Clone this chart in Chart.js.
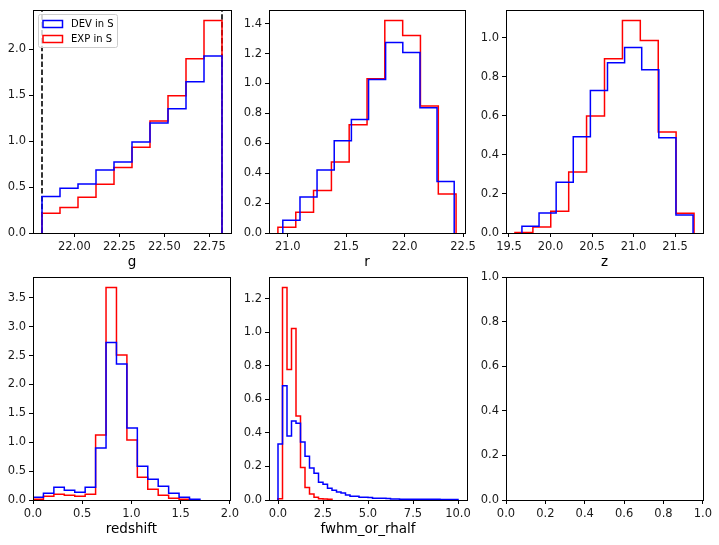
<!DOCTYPE html>
<html>
<head>
<meta charset="utf-8">
<script src="https://cdn.jsdelivr.net/npm/chart.js@4"></script>
<style>
  html, body { margin: 0; padding: 0; background: #fff; overflow: hidden; }
  #fig { position: relative; width: 719px; height: 545px; }
  #fig canvas { position: absolute; }
</style>
</head>
<body>
<div id="fig"></div>
<script>
// ---- data ----
const gEdges = [21.82, 21.92, 22.02, 22.12, 22.22, 22.32, 22.42, 22.52, 22.62, 22.72, 22.82];
const gDev = [0.397, 0.488, 0.535, 0.685, 0.772, 0.991, 1.199, 1.352, 1.647, 1.927];
const gExp = [0.215, 0.277, 0.390, 0.532, 0.714, 0.933, 1.220, 1.494, 1.898, 2.313];
const gCuts = [21.82, 22.82];

const rDevEdges = [20.957, 21.104, 21.250, 21.397, 21.544, 21.691, 21.837, 21.984, 22.131, 22.277, 22.424];
const rDev = [0.085, 0.240, 0.421, 0.616, 0.759, 1.026, 1.274, 1.207, 0.838, 0.345];
const rExpEdges = [20.915, 21.068, 21.220, 21.373, 21.525, 21.678, 21.830, 21.983, 22.135, 22.288, 22.440];
const rExp = [0.038, 0.139, 0.284, 0.475, 0.723, 1.032, 1.420, 1.321, 0.849, 0.260];

const zDevEdges = [19.656, 19.862, 20.068, 20.274, 20.480, 20.686, 20.892, 21.098, 21.304, 21.510, 21.716];
const zDev = [0.034, 0.103, 0.260, 0.493, 0.729, 0.872, 0.949, 0.836, 0.488, 0.092];
const zExpEdges = [19.572, 19.788, 20.003, 20.219, 20.434, 20.650, 20.866, 21.081, 21.297, 21.512, 21.728];
const zExp = [0.003, 0.031, 0.111, 0.312, 0.599, 0.892, 1.087, 0.985, 0.517, 0.101];

const zphotEdges = [0, 0.106, 0.212, 0.318, 0.424, 0.530, 0.636, 0.742, 0.848, 0.954, 1.060, 1.166, 1.272, 1.378, 1.484, 1.590, 1.696];
const zphotDev = [0.046, 0.116, 0.220, 0.168, 0.133, 0.220, 0.899, 2.726, 2.355, 1.247, 0.586, 0.360, 0.238, 0.116, 0.046, 0.012];
const zphotExp = [0.012, 0.064, 0.099, 0.081, 0.064, 0.099, 1.125, 3.677, 2.512, 1.038, 0.394, 0.186, 0.081, 0.029, 0.012];

const sizeDevEdges = [0, 0.25, 0.5, 0.75, 1, 1.25, 1.5, 1.75, 2, 2.25, 2.5, 2.75, 3, 3.25, 3.5, 3.75, 4, 4.25, 4.5, 4.75,
  5, 5.25, 5.5, 5.75, 6, 6.25, 6.5, 6.75, 7, 7.25, 7.5, 7.75, 8, 8.25, 8.5, 8.75, 9, 9.25, 9.5, 9.75, 10];
const sizeDev = [0.333, 0.681, 0.381, 0.471, 0.457, 0.345, 0.261, 0.190, 0.160, 0.106, 0.094, 0.070, 0.058, 0.047, 0.041,
  0.030, 0.022, 0.022, 0.016, 0.016, 0.015, 0.011, 0.010, 0.010, 0.009, 0.006, 0.006, 0.005, 0.005, 0.005,
  0.005, 0.004, 0.004, 0.004, 0.004, 0.004, 0.003, 0.003, 0.003, 0.003];
const sizeExpEdges = [0, 0.25, 0.5, 0.75, 1, 1.25, 1.5, 1.75, 2, 2.25, 2.5, 2.75, 3];
const sizeExp = [0.008, 1.265, 0.778, 1.022, 0.501, 0.194, 0.074, 0.036, 0.016, 0.008, 0.006, 0.004];

const legendLabels = ['DEV in S', 'EXP in S'];
const BLUE = '#0000ff', RED = '#ff0000';
const FONT = "'DejaVu Sans', sans-serif";

// step outline like histtype='step'
function stepPoints(edges, vals) {
  const pts = [{x: edges[0], y: 0}];
  vals.forEach((v, i) => {
    pts.push({x: edges[i], y: v});
    pts.push({x: edges[i + 1], y: v});
  });
  pts.push({x: edges[vals.length], y: 0});
  return pts;
}

function hist(edges, vals, color) {
  return {
    data: stepPoints(edges, vals),
    borderColor: color,
    borderWidth: 1.5,
    pointRadius: 0,
    fill: false,
    tension: 0,
  };
}

function autoRange(lo, hi) {
  const m = (hi - lo) * 0.05;
  return [lo - m, hi + m];
}

const frame = {
  id: 'frame',
  afterDraw(chart) {
    const {ctx, chartArea: a} = chart;
    ctx.save();
    ctx.strokeStyle = '#000';
    ctx.lineWidth = 1;
    ctx.strokeRect(Math.round(a.left) + 0.5, Math.round(a.top) + 0.5,
      Math.round(a.right) - Math.round(a.left), Math.round(a.bottom) - Math.round(a.top));
    ctx.restore();
  }
};

const insideLegend = {
  id: 'insideLegend',
  afterDraw(chart, args, opts) {
    if (!opts.items) return;
    const {ctx, chartArea: a} = chart;
    const x0 = a.left + 5, y0 = a.top + 4;
    ctx.save();
    ctx.fillStyle = 'rgba(255,255,255,0.8)';
    ctx.strokeStyle = '#cccccc';
    ctx.lineWidth = 1;
    ctx.beginPath();
    ctx.roundRect(x0 + 0.5, y0 + 0.5, 79, 33, 2);
    ctx.fill();
    ctx.stroke();
    ctx.font = '10px ' + FONT;
    ctx.textBaseline = 'middle';
    opts.items.forEach((it, i) => {
      const cy = y0 + 10 + i * 15;
      ctx.strokeStyle = it.color;
      ctx.lineWidth = 1.5;
      ctx.strokeRect(x0 + 5, cy - 3.5, 19.5, 7);
      ctx.fillStyle = '#000';
      ctx.fillText(it.label, x0 + 33, cy);
    });
    ctx.restore();
  }
};

function axis(range, step, digits, title) {
  const s = {
    type: 'linear',
    min: range[0],
    max: range[1],
    border: {display: true, color: '#000', width: 1},
    grid: {drawOnChartArea: false, drawTicks: true, tickLength: 4, color: '#000'},
    ticks: {
      stepSize: step,
      includeBounds: false,
      autoSkip: false,
      maxRotation: 0,
      padding: 3,
      color: '#1a1a1a',
      font: {family: FONT, size: 11.5},
      callback: v => Number(v).toFixed(digits),
    },
  };
  if (title !== undefined) {
    s.title = {display: true, text: title, color: '#000', font: {family: FONT, size: 13.5},
      padding: {top: 0, bottom: 2}};
    s.afterFit = sc => { sc.height = 40; };
  } else {
    s.afterFit = sc => { sc.width = 33; };
  }
  return s;
}

function panel(box, datasets, xs, ys, legendItems) {
  const cv = document.createElement('canvas');
  const w = box[2] + 33 + 12, h = box[3] + 10 + 40;
  cv.width = w; cv.height = h;
  cv.style.left = (box[0] - 33) + 'px';
  cv.style.top = (box[1] - 10) + 'px';
  cv.style.width = w + 'px'; cv.style.height = h + 'px';
  document.getElementById('fig').appendChild(cv);
  new Chart(cv, {
    type: 'line',
    data: {datasets},
    options: {
      responsive: false,
      animation: false,
      devicePixelRatio: 1,
      layout: {padding: {top: 10, right: 12, left: 0, bottom: 0}},
      plugins: {legend: {display: false}, tooltip: {enabled: false}, insideLegend: {items: legendItems}},
      scales: {x: xs, y: ys},
    },
    plugins: [frame, insideLegend],
  });
}

const ymax = (...arrs) => Math.max(...arrs.flat()) * 1.05;

// g
const gCutSets = gCuts.map(c => ({
  data: [{x: c, y: 0}, {x: c, y: ymax(gDev, gExp)}],
  borderColor: 'rgba(0,0,0,0.8)', borderWidth: 2, borderDash: [5.5, 2.4], pointRadius: 0,
}));
panel([33, 10, 198, 223],
  [hist(gEdges, gDev, BLUE), hist(gEdges, gExp, RED), ...gCutSets],
  axis(autoRange(gEdges[0], gEdges[gEdges.length - 1]), 0.25, 2, 'g'),
  axis([0, ymax(gDev, gExp)], 0.5, 1),
  [{label: legendLabels[0], color: BLUE}, {label: legendLabels[1], color: RED}]);

// r
panel([269, 10, 198, 223],
  [hist(rDevEdges, rDev, BLUE), hist(rExpEdges, rExp, RED)],
  axis(autoRange(Math.min(rDevEdges[0], rExpEdges[0]), Math.max(rDevEdges[10], rExpEdges[10])), 0.5, 1, 'r'),
  axis([0, ymax(rDev, rExp)], 0.2, 1));

// z
panel([506, 10, 197, 223],
  [hist(zDevEdges, zDev, BLUE), hist(zExpEdges, zExp, RED)],
  axis(autoRange(Math.min(zDevEdges[0], zExpEdges[0]), Math.max(zDevEdges[10], zExpEdges[10])), 0.5, 1, 'z'),
  axis([0, ymax(zDev, zExp)], 0.2, 1));

// redshift
panel([33, 277, 197, 223],
  [hist(zphotEdges, zphotDev, BLUE), hist(zphotEdges, zphotExp, RED)],
  axis([0, 2], 0.5, 1, 'redshift'),
  axis([0, ymax(zphotDev, zphotExp)], 0.5, 1));

// fwhm_or_rhalf
panel([269, 277, 198, 223],
  [hist(sizeDevEdges, sizeDev, BLUE), hist(sizeExpEdges, sizeExp, RED)],
  axis(autoRange(0, 10), 2.5, 1, 'fwhm_or_rhalf'),
  axis([0, ymax(sizeDev, sizeExp)], 0.2, 1));

// empty
panel([506, 277, 197, 223], [],
  axis([0, 1], 0.2, 1, ''),
  axis([0, 1], 0.2, 1));
</script>
</body>
</html>
